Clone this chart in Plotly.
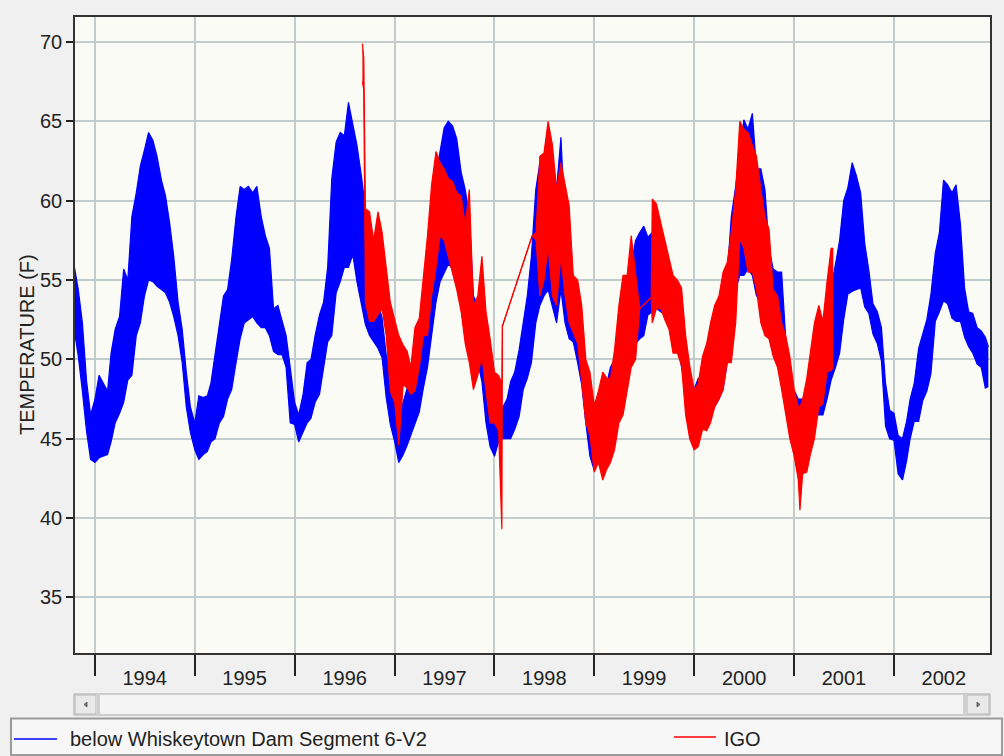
import plotly.graph_objects as go

# ---------------- data ----------------
blue_name = "below Whiskeytown Dam Segment 6-V2"
red_name = "IGO"

year_labels = ["1994", "1995", "1996", "1997", "1998", "1999", "2000", "2001", "2002"]
y_ticks = [35, 40, 45, 50, 55, 60, 65, 70]

# semi-monthly sampling dates for the blue record (daily low / high envelope per half-month)
blue_dates = (["1993-10-16", "1993-11-01", "1993-11-16", "1993-12-01", "1993-12-16"]
              + [f"{y}-{m:02d}-{d:02d}" for y in range(1994, 2003) for m in range(1, 13) for d in (1, 16)][:24 * 8 + 23]
              + ["2002-12-12"])

blue_lo = [
    52.0, 50.2, 48.0, 45.5, 43.7,                                   # 1993
    43.5, 43.8, 43.9, 44.0, 44.8, 46.0, 46.6, 47.3, 48.7, 49.0, 51.5, 52.3,
    54.0, 55.0, 54.9, 54.6, 54.4, 54.2, 53.6, 52.7, 51.5, 49.8, 47.0, 45.4,   # 1994
    44.3, 43.7, 44.0, 44.2, 44.8, 45.0, 46.0, 46.4, 47.5, 48.1, 49.8, 51.3,
    52.3, 52.5, 52.7, 52.3, 52.0, 52.0, 51.5, 50.5, 50.3, 50.3, 49.5, 46.0,   # 1995
    45.9, 44.8, 45.4, 46.0, 46.3, 47.3, 47.8, 49.5, 51.1, 51.5, 54.2, 54.9,
    55.8, 55.8, 56.6, 54.9, 53.6, 52.2, 51.5, 51.1, 50.7, 50.1, 47.6, 45.9,   # 1996
    44.8, 43.5, 44.0, 44.6, 45.2, 46.0, 46.7, 48.2, 49.5, 51.5, 53.6, 54.9,
    55.5, 56.0, 55.7, 55.3, 54.9, 54.4, 53.0, 50.2, 49.8, 48.6, 46.0, 44.5,   # 1997
    43.9, 44.8, 45.0, 45.0, 45.0, 45.6, 46.4, 48.1, 48.8, 49.8, 52.3, 53.4,
    54.0, 54.4, 53.4, 52.3, 54.4, 52.3, 51.3, 51.1, 49.8, 48.4, 46.0, 43.9,   # 1998
    43.0, 44.5, 45.0, 45.5, 46.0, 46.5, 47.5, 48.5, 49.5, 50.5, 51.0, 51.3,
    51.5, 52.8, 53.0, 53.2, 53.0, 52.8, 52.3, 52.0, 51.3, 49.5, 48.1, 46.0,   # 1999
    46.0, 46.3, 46.0, 46.3, 46.4, 47.0, 47.5, 48.1, 49.8, 51.1, 54.4, 55.3,
    55.3, 55.7, 55.3, 54.0, 53.8, 53.4, 52.7, 52.3, 51.9, 50.2, 49.0, 46.0,   # 2000
    46.0, 46.0, 46.0, 46.2, 46.2, 46.5, 46.5, 46.5, 47.5, 48.7, 49.5, 50.4,
    52.5, 54.1, 54.3, 54.4, 54.5, 53.3, 52.9, 51.6, 51.0, 49.9, 45.8, 45.0,   # 2001
    44.9, 42.8, 42.4, 43.6, 45.0, 46.1, 46.1, 47.4, 48.0, 49.1, 52.4, 53.0,
    53.7, 53.5, 52.6, 52.4, 52.4, 51.4, 50.8, 50.4, 49.7, 49.5, 48.2,         # 2002
    48.3,
]
blue_hi = [
    56.0, 54.4, 52.3, 48.7, 46.5,                                   # 1993
    47.5, 49.0, 48.5, 48.0, 50.4, 51.9, 52.7, 55.7, 55.0, 59.0, 60.5, 62.2,
    63.2, 64.3, 63.8, 62.8, 61.3, 60.3, 58.6, 56.5, 53.6, 51.9, 49.2, 47.0,   # 1994
    46.0, 47.7, 47.6, 47.7, 48.5, 50.4, 52.3, 54.0, 54.4, 56.3, 59.0, 60.9,
    60.7, 60.9, 60.5, 60.9, 59.0, 57.8, 57.0, 53.2, 53.4, 52.5, 51.5, 49.5,   # 1995
    47.3, 46.5, 47.8, 49.8, 50.0, 51.5, 52.8, 53.6, 55.8, 61.4, 63.7, 64.3,
    64.1, 66.2, 64.8, 63.5, 61.6, 59.5, 57.8, 54.9, 53.6, 52.6, 50.3, 49.5,   # 1996
    49.5, 46.7, 47.3, 48.2, 49.5, 50.7, 51.5, 53.2, 55.3, 58.7, 61.6, 63.0,
    64.6, 65.0, 64.7, 63.9, 61.8, 60.7, 59.0, 54.0, 53.4, 52.4, 49.2, 47.7,   # 1997
    46.4, 46.9, 47.0, 47.5, 48.6, 49.2, 50.6, 52.3, 54.0, 56.5, 60.7, 62.4,
    62.8, 64.5, 62.8, 60.7, 64.0, 58.6, 56.5, 54.9, 53.6, 52.3, 49.2, 47.0,   # 1998
    46.0, 47.5, 48.0, 48.5, 49.5, 50.0, 51.0, 52.0, 54.5, 56.0, 57.5, 58.0,
    58.4, 57.7, 58.0, 57.5, 55.7, 55.0, 54.5, 54.0, 53.0, 51.1, 50.9, 49.0,   # 1999
    48.1, 48.8, 48.5, 49.2, 49.8, 50.6, 52.3, 54.0, 55.3, 59.0, 60.9, 63.2,
    65.1, 64.5, 65.5, 62.0, 62.0, 60.7, 57.0, 55.7, 55.5, 55.5, 51.3, 48.6,   # 2000
    48.0, 47.5, 47.5, 48.0, 49.0, 50.0, 50.5, 51.0, 52.5, 54.5, 56.0, 57.5,
    60.0, 60.8, 62.4, 61.6, 60.5, 57.3, 55.6, 53.5, 53.0, 52.0, 48.5, 46.8,   # 2001
    46.6, 45.2, 45.0, 46.1, 47.5, 48.5, 50.7, 51.6, 52.5, 54.1, 56.7, 58.0,
    61.3, 61.0, 60.5, 61.0, 58.5, 54.5, 53.0, 52.9, 52.0, 51.8, 51.4,         # 2002
    50.8,
]

red_dates = [
    "1996-09-05", "1996-09-10", "1996-09-16", "1996-10-01", "1996-10-16", "1996-11-01",
    "1996-11-16", "1996-12-01", "1996-12-16",
    "1997-01-01", "1997-01-16", "1997-02-01", "1997-02-16", "1997-03-01", "1997-03-16",
    "1997-04-01", "1997-04-16", "1997-05-01", "1997-05-16", "1997-06-01", "1997-06-16",
    "1997-07-01", "1997-07-16", "1997-08-01", "1997-08-16", "1997-09-01", "1997-09-16",
    "1997-10-01", "1997-10-16", "1997-11-01", "1997-11-16", "1997-12-01", "1997-12-16",
    "1998-01-01", "1998-01-16", "1998-01-28", "1998-01-30", "1998-05-19", "1998-06-02",
    "1998-06-16", "1998-07-01", "1998-07-16", "1998-08-01", "1998-08-16", "1998-09-01",
    "1998-09-16", "1998-10-01", "1998-10-16", "1998-11-01", "1998-11-16", "1998-12-01",
    "1998-12-16",
    "1999-01-01", "1999-01-16", "1999-02-01", "1999-02-16", "1999-03-01", "1999-03-16",
    "1999-04-01", "1999-04-16", "1999-05-01", "1999-05-16", "1999-06-01", "1999-06-16",
    "1999-07-28", "1999-08-01", "1999-08-16", "1999-09-01", "1999-09-16", "1999-10-01",
    "1999-10-16", "1999-11-01", "1999-11-16", "1999-12-01", "1999-12-16",
    "2000-01-01", "2000-01-16", "2000-02-01", "2000-02-16", "2000-03-01", "2000-03-16",
    "2000-04-01", "2000-04-16", "2000-05-01", "2000-05-16", "2000-06-01", "2000-06-16",
    "2000-07-01", "2000-07-16", "2000-08-01", "2000-08-16", "2000-09-01", "2000-09-16",
    "2000-10-01", "2000-10-16", "2000-11-01", "2000-11-16", "2000-12-01", "2000-12-16",
    "2001-01-01", "2001-01-16", "2001-01-22", "2001-02-01", "2001-02-16", "2001-03-01",
    "2001-03-16", "2001-04-01", "2001-04-16", "2001-05-01", "2001-05-16", "2001-05-24",
]
red_lo = [
    67.5, 67.0, 53.6, 52.4, 52.4, 52.8, 53.2, 51.5, 48.0,
    47.3, 44.6, 48.4, 48.2, 47.8, 48.0, 49.5, 51.5, 51.5, 54.0, 55.8, 57.8,
    57.5, 56.5, 55.3, 54.4, 53.0, 51.0, 49.8, 48.1, 49.0, 50.2, 48.0, 46.0,
    46.0, 45.5, 39.3, 52.1, 57.8, 57.5, 54.0, 55.0, 57.1, 54.0, 53.4, 56.5,
    54.0, 52.3, 51.7, 51.0, 48.6, 46.0, 45.2,
    42.9, 43.5, 42.4, 43.1, 43.5, 44.3, 46.0, 46.5, 48.1, 49.5, 50.0, 53.2,
    53.9, 52.3, 53.2, 53.2, 52.5, 51.9, 50.4, 50.4, 49.6, 46.5, 45.0,
    44.3, 44.5, 45.6, 45.5, 46.0, 47.0, 47.5, 48.1, 49.8, 49.8, 52.3, 57.6,
    57.0, 55.5, 55.5, 54.4, 52.3, 51.5, 51.3, 50.2, 49.5, 48.1, 46.5, 45.0,
    43.9, 42.4, 40.5, 42.8, 42.9, 44.0, 45.0, 47.0, 47.2, 49.2, 49.3, 49.5,
]
red_hi = [
    69.9, 69.0, 59.5, 59.3, 57.5, 59.3, 58.0, 55.8, 53.6,
    52.5, 51.5, 50.9, 50.5, 49.5, 52.0, 52.6, 55.0, 57.8, 61.0, 63.1, 62.4,
    62.0, 61.4, 61.2, 60.5, 60.3, 58.5, 60.7, 53.4, 54.0, 56.5, 53.0, 51.3,
    49.2, 49.0, 48.5, 52.1, 57.8, 58.0, 62.8, 63.0, 65.0, 63.5, 60.7, 62.4,
    61.0, 59.7, 55.3, 55.0, 53.4, 50.0, 49.2,
    47.1, 48.0, 49.2, 48.8, 48.8, 50.6, 53.4, 55.3, 55.3, 57.8, 55.5, 53.2,
    53.9, 60.1, 59.8, 58.6, 57.5, 56.5, 55.3, 55.0, 54.5, 51.5, 49.6,
    48.1, 48.5, 50.2, 51.0, 52.3, 53.4, 54.0, 55.5, 56.1, 58.0, 60.7, 65.0,
    64.5, 64.3, 63.5, 62.8, 60.7, 59.0, 58.2, 54.4, 54.0, 52.3, 51.5, 50.2,
    48.1, 47.0, 47.0, 47.5, 48.8, 50.5, 52.3, 53.4, 52.4, 54.9, 57.0, 57.0,
]

# ---------------- layout geometry (pixels) ----------------
W, H = 1004, 756
L, R, T, B = 75, 990, 17, 653


def px(x):
    return (x - L) / (R - L)


def py(y):
    return (B - y) / (B - T)


FONT = "Liberation Sans, Arial, sans-serif"
BLUE = "#0000FF"
RED = "#FF0000"
GRID = "#C3CCCC"
TXT = "#222222"

fig = go.Figure()
for dates, lo, hi, col, name in [(blue_dates, blue_lo, blue_hi, BLUE, blue_name),
                                  (red_dates, red_lo, red_hi, RED, red_name)]:
    fig.add_trace(go.Scatter(x=dates, y=lo, mode="lines", line=dict(color=col, width=1.2),
                             name=name, showlegend=False, hoverinfo="skip"))
    fig.add_trace(go.Scatter(x=dates, y=hi, mode="lines", line=dict(color=col, width=1.2),
                             fill="tonexty", fillcolor=col, name=name, showlegend=False,
                             hoverinfo="skip"))

shapes = []
annotations = []

# scrollbar
shapes += [
    dict(type="rect", xref="paper", yref="paper", x0=px(74), x1=px(990), y0=py(715), y1=py(694),
         line=dict(color="#A8A8A8", width=1), fillcolor="#F4F4F4", layer="above"),
    dict(type="rect", xref="paper", yref="paper", x0=px(75), x1=px(96), y0=py(714), y1=py(695),
         line=dict(color="#B8B8B8", width=1), fillcolor="#E9E9E9", layer="above"),
    dict(type="rect", xref="paper", yref="paper", x0=px(967), x1=px(989), y0=py(714), y1=py(695),
         line=dict(color="#B8B8B8", width=1), fillcolor="#E9E9E9", layer="above"),
    dict(type="rect", xref="paper", yref="paper", x0=px(97), x1=px(100), y0=py(714), y1=py(695),
         line=dict(width=0), fillcolor="#CFCFCF", layer="above"),
    dict(type="rect", xref="paper", yref="paper", x0=px(963), x1=px(966), y0=py(714), y1=py(695),
         line=dict(width=0), fillcolor="#CFCFCF", layer="above"),
    dict(type="path", xref="paper", yref="paper",
         path=f"M {px(84)} {py(704.5)} L {px(87)} {py(702)} L {px(87)} {py(707)} Z",
         line=dict(color="#666666", width=1), fillcolor="#666666", layer="above"),
    dict(type="path", xref="paper", yref="paper",
         path=f"M {px(980)} {py(704.5)} L {px(977)} {py(702)} L {px(977)} {py(707)} Z",
         line=dict(color="#666666", width=1), fillcolor="#666666", layer="above"),
]

# legend box
shapes += [
    dict(type="rect", xref="paper", yref="paper", x0=px(11), x1=px(1002), y0=py(755), y1=py(718.5),
         line=dict(color="#9A9A9A", width=2), fillcolor="#F7F7F7", layer="above"),
    dict(type="line", xref="paper", yref="paper", x0=px(14), x1=px(57), y0=py(739), y1=py(739),
         line=dict(color=BLUE, width=1.5), layer="above"),
    dict(type="line", xref="paper", yref="paper", x0=px(674), x1=px(716), y0=py(737), y1=py(737),
         line=dict(color=RED, width=1.5), layer="above"),
]
annotations += [
    dict(text=blue_name, xref="paper", yref="paper", x=px(68), y=py(739), xanchor="left",
         yanchor="middle", showarrow=False, font=dict(family=FONT, size=20, color=TXT)),
    dict(text=red_name, xref="paper", yref="paper", x=px(722), y=py(739), xanchor="left",
         yanchor="middle", showarrow=False, font=dict(family=FONT, size=20, color=TXT)),
    dict(text="TEMPERATURE (F)", xref="paper", yref="paper", x=px(27), y=py(345), textangle=-90,
         xanchor="center", yanchor="middle", showarrow=False,
         font=dict(family=FONT, size=20, color=TXT)),
]

fig.update_layout(
    width=W, height=H,
    margin=dict(l=L, r=W - R, t=T, b=H - B, pad=0),
    paper_bgcolor="#F0F0F0",
    plot_bgcolor="#FBFBF6",
    showlegend=False,
    shapes=shapes,
    annotations=annotations,
    xaxis=dict(
        type="date",
        range=["1993-10-20", "2002-12-18"],
        tickmode="array",
        tickvals=[f"{y}-07-02" for y in year_labels],
        ticktext=year_labels,
        ticks="outside", ticklen=6, tickcolor="rgba(0,0,0,0)",
        showgrid=False, zeroline=False,
        showline=True, mirror=True, linecolor="#333333", linewidth=1.5,
        tickfont=dict(family=FONT, size=20, color=TXT),
        minor=dict(tickmode="array", tickvals=[f"{y}-01-01" for y in year_labels],
                   ticks="outside", ticklen=21, tickwidth=1.5, tickcolor=TXT,
                   showgrid=True, gridcolor=GRID, gridwidth=1.5),
    ),
    yaxis=dict(
        range=[31.5, 71.575],
        tickmode="array", tickvals=y_ticks, ticktext=[str(v) for v in y_ticks],
        ticks="outside", ticklen=7, tickwidth=1.5, tickcolor=TXT,
        showgrid=True, gridcolor=GRID, gridwidth=1.5, zeroline=False,
        showline=True, mirror=True, linecolor="#333333", linewidth=1.5,
        tickfont=dict(family=FONT, size=20, color=TXT),
    ),
)

fig.write_html("out.html")
